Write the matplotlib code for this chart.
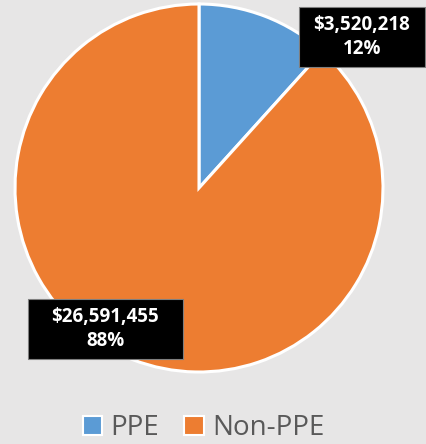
import matplotlib.pyplot as plt
from matplotlib.patches import Patch, Rectangle

categories = ['PPE', 'Non-PPE']
amounts = [3520218, 26591455]
colors = ['#5b9bd5', '#ed7d31']
label_pos = [(362, 407), (105.5, 115)]
label_box = [(126, 60), (155, 60)]

W, H = 426, 444
fig = plt.figure(figsize=(W / 100, H / 100), dpi=100)
fig.patch.set_facecolor('#e7e6e6')
ax = fig.add_axes([0, 0, 1, 1])

ax.pie(amounts, colors=colors, startangle=90, counterclock=False,
       center=(199, 256), radius=184,
       wedgeprops=dict(edgecolor='white', linewidth=2.2))
# pie() resets the limits, so set them afterwards
ax.set_xlim(0, W)
ax.set_ylim(0, H)
ax.set_aspect('equal')
ax.axis('off')

total = sum(amounts)
for amt, (x, y), (bw, bh) in zip(amounts, label_pos, label_box):
    ax.add_patch(Rectangle((x - bw / 2, y - bh / 2), bw, bh, facecolor='black',
                           edgecolor='#7f7f7f', linewidth=0.8, zorder=3))
    txt = '${:,}\n{:.0%}'.format(amt, amt / total)
    ax.text(x, y, txt, ha='center', va='center', color='white',
            fontsize=13.5, fontweight='bold', family='Open Sans',
            linespacing=1.3, zorder=4)

handles = [Patch(facecolor=c, edgecolor='white', linewidth=1.5) for c in colors]
fig.legend(handles, categories, loc='center',
           bbox_to_anchor=(203.5 / W, 1 - 428 / H),
           ncol=2, frameon=False, handlelength=0.7,
           handleheight=0.7, handletextpad=0.3, columnspacing=0.9,
           prop=dict(family='Open Sans', size=20), labelcolor='#595959')

fig.savefig('out.png', dpi=100, facecolor=fig.get_facecolor())
